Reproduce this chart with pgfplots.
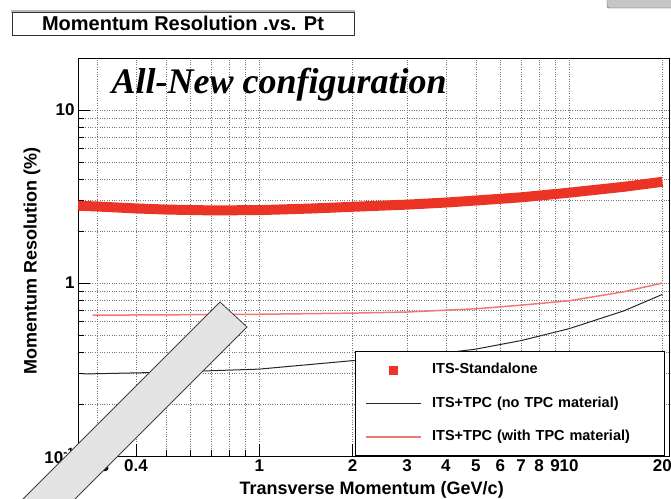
\documentclass[border=0pt]{standalone}
\usepackage{fontspec}
\setmainfont{Liberation Sans}
\newfontfamily\timesfont{Liberation Serif}
\usepackage{pgfplots}
\pgfplotsset{compat=1.18}
\definecolor{itsred}{RGB}{236,52,38}
\definecolor{tpcred}{RGB}{242,120,120}
\definecolor{gridgray}{RGB}{120,120,120}
\definecolor{linegray}{RGB}{40,40,40}
\pgfplotsset{
  mylinelegend/.style={legend image code/.code={\draw[##1] (0pt,0pt) -- (55pt,0pt); \path[draw=none,fill=none] (0pt,0pt) -- (66pt,0pt);}},
  mysqlegend/.style={legend image code/.code={\path[draw=none,fill=none] (0pt,0pt) -- (66pt,0pt); \draw[##1] plot coordinates {(27.5pt,0pt)};}},
}

\begin{document}
\begin{tikzpicture}
\useasboundingbox (0pt,0pt) rectangle (671pt,-498pt);
% title box
\fill[gray!55] (11pt,-9.5pt) rectangle (355pt,-13pt);
\draw[fill=white, draw=gray!40!black, line width=0.8pt] (12pt,-12pt) rectangle (354pt,-35pt);
\node[font=\bfseries\fontsize{20}{20}\selectfont] at (183pt,-23.5pt) {Momentum Resolution .vs. Pt};
\draw[fill=gray!45, draw=gray!60!black, rounded corners=2pt] (607pt,3pt) rectangle (680pt,-8pt);

\begin{axis}[
  at={(78pt,-456pt)}, anchor=south west,
  scale only axis, width=591pt, height=398pt,
  xmode=log, ymode=log,
  xmin=0.26, xmax=21, ymin=0.1, ymax=20,
  xtick={0.3,0.4,1,2,3,4,5,6,7,8,9,10,20},
  xticklabels={0.3,0.4,1,2,3,4,5,6,7,8,9,10,20},
  minor xtick={0.5,0.6,0.7,0.8,0.9},
  ytick={0.1,1,10},
  yticklabels={{10\textsuperscript{-1}},1,10},
  minor ytick={0.2,0.3,0.4,0.5,0.6,0.7,0.8,0.9,2,3,4,5,6,7,8,9,20},
  tick pos=left, tick align=inside,
  major tick length=12pt, minor tick length=6pt,
  tick style={black, line width=0.6pt},
  grid=both,
  major grid style={dotted, gridgray, line width=0.6pt},
  minor grid style={dotted, gridgray, line width=0.6pt},
  axis line style={black, line width=0.9pt},
  ticklabel style={font=\bfseries\fontsize{17}{17}\selectfont},
  xlabel={Transverse Momentum (GeV/c)},
  ylabel={Momentum Resolution (\%)},
  xlabel style={at={(axis description cs:0.497,-0.0854)}, anchor=center, font=\bfseries\fontsize{18}{18}\selectfont},
  ylabel style={at={(axis description cs:-0.078,0.49)}, anchor=center, font=\bfseries\fontsize{18}{18}\selectfont},
  legend style={at={(axis description cs:0.4687,0)}, anchor=south west,
    draw=black, line width=0.8pt, fill=white,
    inner xsep=10pt, inner ysep=12pt, row sep=20.5pt,
    font=\bfseries\fontsize{14.5}{14.5}\selectfont,
    cells={anchor=west},
    nodes={inner sep=0pt, text width=222pt, text height=10pt, text depth=3pt}},
]
\addplot[itsred, line width=10pt, forget plot] coordinates {
(0.26,2.80) (0.3,2.77) (0.4,2.70) (0.5,2.66) (0.7,2.63) (1.0,2.64) (1.5,2.70)
(2.0,2.76) (3.0,2.84) (4.0,2.92) (5.0,3.00) (7.0,3.13) (10,3.33) (15,3.60) (20,3.85)};

\addlegendimage{only marks, mark=square*, mark size=4pt, color=itsred,
  mark options={draw=itsred, fill=itsred}, mysqlegend}
\addlegendentry{ITS-Standalone}

\addplot[linegray, line width=1pt, mylinelegend] coordinates {
(0.27,0.298) (0.5,0.305) (1,0.318) (2,0.356) (3,0.375) (4,0.395) (5,0.415)
(7,0.465) (10,0.545) (15,0.69) (20,0.86)};
\addlegendentry{ITS+TPC (no TPC material)}

\addplot[tpcred, line width=1.5pt, mylinelegend] coordinates {
(0.29,0.652) (0.5,0.655) (1,0.66) (2,0.67) (3,0.68) (5,0.71) (7,0.745)
(10,0.79) (15,0.89) (20,1.0)};
\addlegendentry{ITS+TPC (with TPC material)}

\node[anchor=base west, font=\timesfont\bfseries\itshape\fontsize{36}{36}\selectfont]
  at (axis description cs:0.0508,0.912) {All-New configuration};
\end{axis}

% grey diagonal overlay bar
\draw[fill=gray!22, draw=black!75, line width=0.8pt] (220pt,-302pt) -- (247pt,-327pt) -- (40pt,-534pt) -- (13pt,-509pt) -- cycle;
\end{tikzpicture}
\end{document}
